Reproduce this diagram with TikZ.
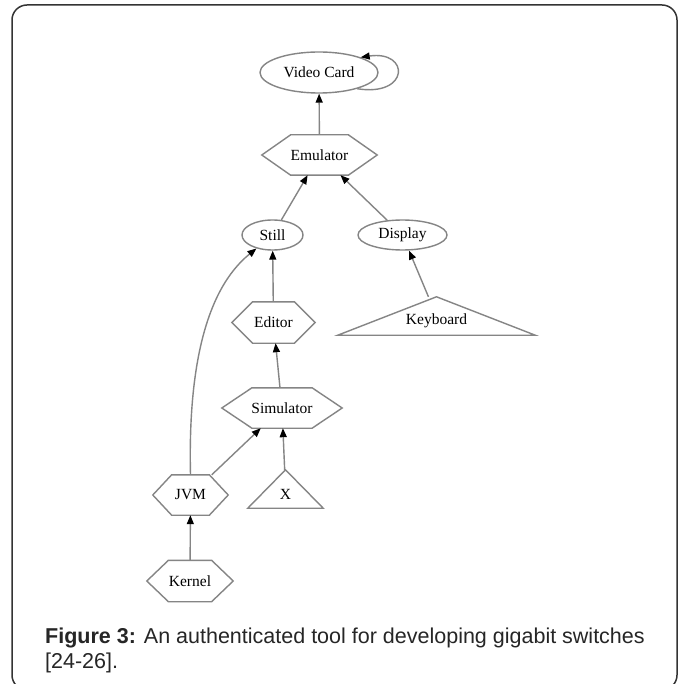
\documentclass[tikz,border=0pt]{standalone}
\usepackage{fontspec}
\setmainfont{Liberation Serif}
\newfontfamily\capfont{Liberation Sans}
\usetikzlibrary{arrows.meta,calc,shapes.geometric}
\definecolor{edgegray}{HTML}{858585}
\definecolor{framegray}{HTML}{333333}
\newcommand\hexframe[1]{%
  \draw[nodeline] (#1.west) -- ($(#1.north west)!.25!(#1.north east)$) -- ($(#1.north west)!.75!(#1.north east)$) -- (#1.east) -- ($(#1.south west)!.75!(#1.south east)$) -- ($(#1.south west)!.25!(#1.south east)$) -- cycle;}
\newcommand\triframe[1]{%
  \draw[nodeline] (#1.south west) -- (#1.north) -- (#1.south east) -- cycle;}
\begin{document}
\begin{tikzpicture}[x=1pt,y=-1pt,
  nodeline/.style={draw=edgegray,line width=1.4pt,line join=miter},
  lbl/.style={font=\fontsize{15.5}{18}\selectfont,text=black},
  ell/.style={ellipse,nodeline,inner sep=0pt,lbl},
  hexbox/.style={rectangle,inner sep=0pt,lbl},
  tribox/.style={rectangle,inner sep=0pt},
  conn/.style={draw=edgegray,line width=1.4pt,-{Triangle[color=black,length=9pt,width=7pt]}},
  outerframe/.style={draw=framegray,line width=1.5pt,rounded corners=15pt},
  captext/.style={font=\capfont\fontsize{21.5}{25}\selectfont,text=black!85,inner sep=0pt,anchor=base west}]
\useasboundingbox (0,0) rectangle (679,684);
\clip (0,0) rectangle (679,684);
\fill[white] (0,0) rectangle (679,684);
\draw[outerframe] (12,5) rectangle (677,690);

% nodes
\node[ell,minimum width=118pt,minimum height=41pt] (vc) at (319,72.5) {Video Card};
\node[hexbox,minimum width=115pt,minimum height=40pt] (emu) at (319.5,155) {Emulator};
\node[ell,minimum width=61pt,minimum height=30pt] (still) at (272.5,235) {Still};
\node[ell,minimum width=89pt,minimum height=30pt] (disp) at (402.5,235) {Display};
\node[hexbox,minimum width=83pt,minimum height=41pt] (ed) at (273.5,322.5) {Editor};
\node[tribox,minimum width=197pt,minimum height=38pt,
  label={[lbl,yshift=-5pt]center:Keyboard}] (kb) at (436.5,316) {};
\node[hexbox,minimum width=120pt,minimum height=40pt] (sim) at (282,408) {Simulator};
\node[hexbox,minimum width=75pt,minimum height=40pt] (jvm) at (190.5,495) {JVM};
\node[tribox,minimum width=75pt,minimum height=38pt,
  label={[lbl,yshift=-5pt]center:X}] (xn) at (285.5,489) {};
\node[hexbox,minimum width=86pt,minimum height=41pt] (ker) at (190,581) {Kernel};

\hexframe{emu}
\hexframe{ed}
\hexframe{sim}
\hexframe{jvm}
\hexframe{ker}
\triframe{kb}
\triframe{xn}

% connectors
\draw[conn] (emu) -- (vc);
\draw[conn] (vc.-23) .. controls (410,97) and (410,50) .. (vc.20);
\draw[conn] (still) -- (emu);
\draw[conn] (disp) -- (emu);
\draw[conn] (ed) -- (still);
\draw[conn] (kb) -- (disp);
\draw[conn] (sim) -- (ed);
\draw[conn] (jvm) -- (sim);
\draw[conn] (xn) -- (sim);
\draw[conn] (ker) -- (jvm);
\draw[conn] (jvm.north) .. controls (188,370) and (205,290) .. (still.220);

% caption
\node[captext] (c1) at (45,643) {\textbf{Figure 3:} An authenticated tool for developing gigabit switches};
\node[captext] (c2) at (45,668) {[24-26].};
\end{tikzpicture}
\end{document}
